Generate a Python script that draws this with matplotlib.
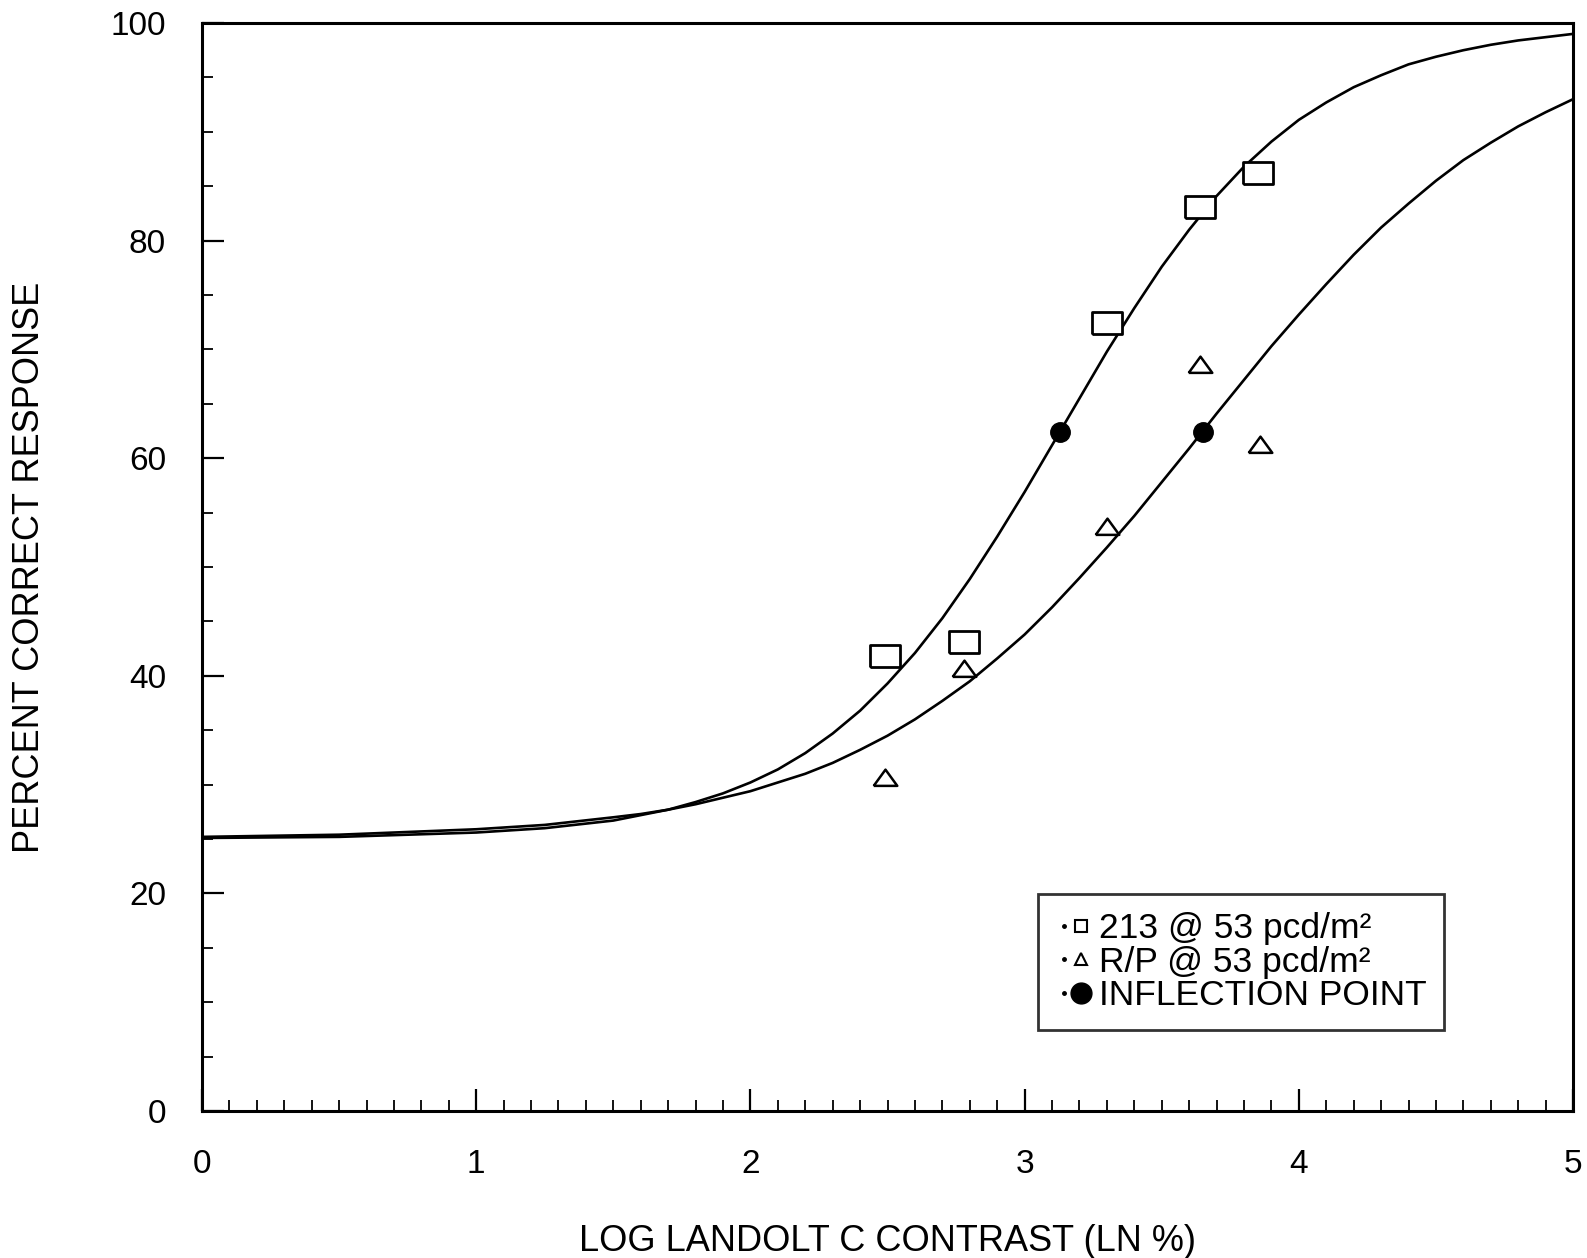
import numpy as np
import matplotlib
matplotlib.use("Agg")
import matplotlib.pyplot as plt
from matplotlib.lines import Line2D
from matplotlib.legend_handler import HandlerTuple

plt.rcParams['font.family'] = ['Liberation Sans', 'DejaVu Sans']

# measured points
x_213 = [2.49, 2.78, 3.30, 3.64, 3.85]
y_213 = [41.8, 43.1, 72.4, 83.1, 86.2]
x_rp = [2.49, 2.78, 3.30, 3.64, 3.86]
y_rp = [30.6, 40.6, 53.7, 68.6, 61.2]
x_infl = [3.13, 3.65]
y_infl = [62.4, 62.4]

# fitted curves
curve_x = [0.0, 0.5, 1.0, 1.25, 1.5, 1.6, 1.7, 1.8, 1.9, 2.0,
           2.1, 2.2, 2.3, 2.4, 2.5, 2.6, 2.7, 2.8, 2.9, 3.0,
           3.1, 3.2, 3.3, 3.4, 3.5, 3.6, 3.7, 3.8, 3.9, 4.0,
           4.1, 4.2, 4.3, 4.4, 4.5, 4.6, 4.7, 4.8, 4.9, 5.0]
curve_213 = [25.1, 25.2, 25.6, 26.0, 26.7, 27.2, 27.7, 28.4, 29.2, 30.2,
             31.4, 32.9, 34.7, 36.8, 39.3, 42.1, 45.3, 48.9, 52.8, 56.9,
             61.2, 65.5, 69.8, 73.8, 77.6, 81.0, 84.1, 86.8, 89.1, 91.1,
             92.7, 94.1, 95.2, 96.2, 96.9, 97.5, 98.0, 98.4, 98.7, 99.0]
curve_rp = [25.2, 25.4, 25.9, 26.3, 27.0, 27.3, 27.7, 28.2, 28.8, 29.4,
            30.2, 31.0, 32.0, 33.2, 34.5, 36.0, 37.7, 39.5, 41.6, 43.8,
            46.3, 49.0, 51.8, 54.7, 57.8, 60.9, 64.1, 67.2, 70.3, 73.2,
            76.0, 78.7, 81.2, 83.4, 85.5, 87.4, 89.0, 90.5, 91.8, 93.0]

rect = [(-1.3, -1), (1.3, -1), (1.3, 1), (-1.3, 1), (-1.3, -1)]
tri = [(-1.2, -0.75), (1.2, -0.75), (0, 0.9), (-1.2, -0.75)]

fig = plt.figure(figsize=(15.87, 12.58), dpi=100)
ax = fig.add_axes([0.1273, 0.1168, 0.8639, 0.8649])

ax.plot(curve_x, curve_213, color='black', lw=1.9)
ax.plot(curve_x, curve_rp, color='black', lw=1.9)
ax.plot(x_213, y_213, linestyle='none', marker=rect, ms=21, mfc='white',
        mec='black', mew=2.0)
ax.plot(x_rp, y_rp, linestyle='none', marker=tri, ms=17, mfc='white',
        mec='black', mew=1.8)
ax.plot(x_infl, y_infl, linestyle='none', marker='o', ms=14, color='black', zorder=5)

ax.set_xlim(0, 5)
ax.set_ylim(0, 100)
ax.set_xticks(np.arange(0, 6, 1))
ax.set_xticks(np.arange(0, 5.01, 0.1), minor=True)
ax.set_yticks(np.arange(0, 101, 20))
ax.set_yticks(np.arange(0, 101, 5), minor=True)
ax.tick_params(axis='both', which='major', direction='in', length=16, width=1.6,
               labelsize=24, pad=27)
ax.tick_params(axis='both', which='minor', direction='in', length=8, width=1.3)
ax.tick_params(axis='y', which='both', pad=26)
for s in ax.spines.values():
    s.set_linewidth(2.2)

ax.set_xlabel('LOG LANDOLT C CONTRAST (LN %)', fontsize=26, labelpad=32)
ax.set_ylabel('PERCENT CORRECT RESPONSE', fontsize=26, labelpad=46)

dot = Line2D([], [], linestyle='none', marker='o', ms=2.5, color='black')
h1 = Line2D([], [], linestyle='none', marker='s', ms=9, mfc='white', mec='black', mew=1.5)
h2 = Line2D([], [], linestyle='none', marker='^', ms=8, mfc='white', mec='black', mew=1.5)
h3 = Line2D([], [], linestyle='none', marker='o', ms=15, color='black')
leg = ax.legend([(dot, h1), (dot, h2), (dot, h3)],
                ['213 @ 53 pcd/m²', 'R/P @ 53 pcd/m²', 'INFLECTION POINT'],
                handler_map={tuple: HandlerTuple(ndivide=None, pad=0.05)},
                loc='lower right', bbox_to_anchor=(0.906, 0.0744),
                fontsize=25.5, handlelength=0.9, handletextpad=0.3,
                labelspacing=0.02, borderpad=0.5, borderaxespad=0,
                frameon=True, fancybox=False, edgecolor='black')
leg.get_frame().set_linewidth(2.0)

fig.savefig('out.png', dpi=100)
